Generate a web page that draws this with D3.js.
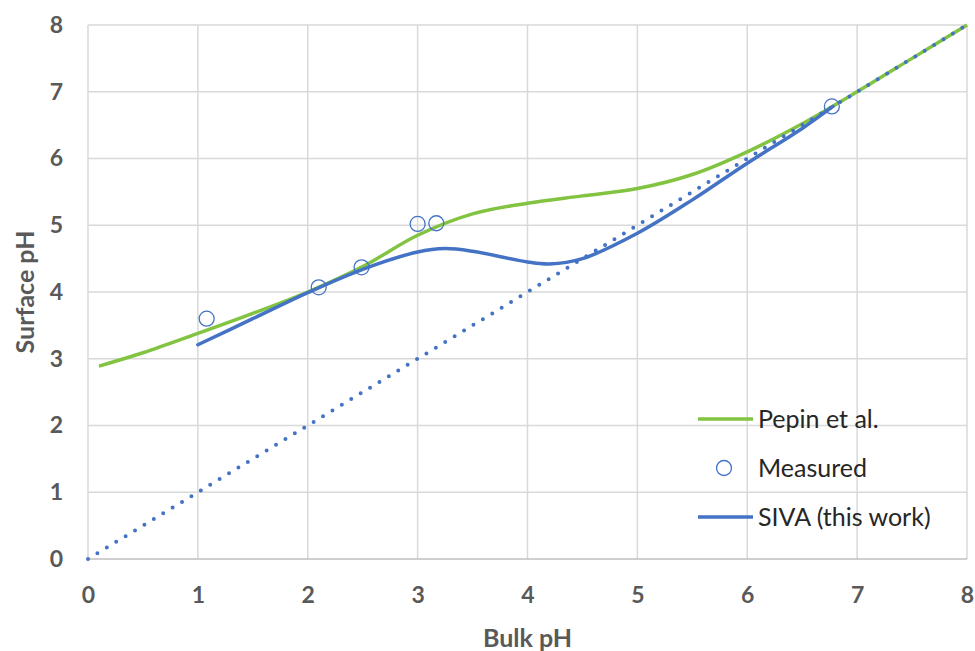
<!DOCTYPE html>
<html>
<head>
<meta charset="utf-8">
<script src="https://cdn.jsdelivr.net/npm/d3@7"></script>
<style>
  body { margin: 0; background: #fff; }
  text { font-family: Lato, "Open Sans", sans-serif; }
</style>
</head>
<body>
<script>
// bulk pH -> surface pH
const pepinX = [0.1, 0.5, 1, 1.5, 2, 2.5, 3, 3.5, 4, 4.5, 5, 5.5, 6, 6.5, 7, 7.5, 8];
const pepinY = [2.89, 3.09, 3.38, 3.68, 4.0, 4.38, 4.85, 5.17, 5.33, 5.44, 5.55, 5.76, 6.1, 6.52, 7.0, 7.5, 8.0];

const sivaX = [1, 1.5, 2, 2.5, 3, 3.25, 3.5, 4, 4.2, 4.5, 5, 5.5, 6, 6.5, 6.78];
const sivaY = [3.21, 3.6, 3.99, 4.34, 4.6, 4.65, 4.61, 4.45, 4.42, 4.5, 4.88, 5.38, 5.93, 6.45, 6.78];

const measX = [1.08, 2.1, 2.49, 3.0, 3.17, 6.77];
const measY = [3.6, 4.07, 4.37, 5.02, 5.03, 6.78];

const identityX = [0, 8];
const identityY = [0, 8];

const xTicks = [0, 1, 2, 3, 4, 5, 6, 7, 8];
const yTicks = [0, 1, 2, 3, 4, 5, 6, 7, 8];

const legendLabels = ["Pepin et al.", "Measured", "SIVA (this work)"];

const width = 975, height = 651;
const margin = {top: 25, right: 8, bottom: 92, left: 88};

const green = "#82c341", blue = "#4472c4";

const svg = d3.select("body").append("svg")
    .attr("width", width)
    .attr("height", height);

const x = d3.scaleLinear().domain([0, 8]).range([margin.left, width - margin.right]);
const y = d3.scaleLinear().domain([0, 8]).range([height - margin.bottom, margin.top]);

// grid
svg.append("g")
    .selectAll("line")
    .data(xTicks)
    .join("line")
    .attr("x1", d => x(d)).attr("x2", d => x(d))
    .attr("y1", y(0)).attr("y2", y(8))
    .attr("stroke", "#d9d9d9").attr("stroke-width", 1.5);

svg.append("g")
    .selectAll("line")
    .data(yTicks)
    .join("line")
    .attr("x1", x(0)).attr("x2", x(8))
    .attr("y1", d => y(d)).attr("y2", d => y(d))
    .attr("stroke", d => d === 0 ? "#bfbfbf" : "#d9d9d9").attr("stroke-width", 1.5);

// axes (labels only)
const xAxis = g => g
    .attr("transform", `translate(0, ${y(0)})`)
    .call(d3.axisBottom(x).tickValues(xTicks).tickSize(0).tickPadding(28).tickFormat(d3.format("d")))
    .call(g => g.select(".domain").remove())
    .call(g => g.selectAll("text")
        .attr("font-family", "Lato, sans-serif")
        .attr("font-size", 23).attr("font-weight", "bold").attr("fill", "#595959"));

const yAxis = g => g
    .attr("transform", `translate(${x(0)}, 0)`)
    .call(d3.axisLeft(y).tickValues(yTicks).tickSize(0).tickPadding(25).tickFormat(d3.format("d")))
    .call(g => g.select(".domain").remove())
    .call(g => g.selectAll("text")
        .attr("font-family", "Lato, sans-serif")
        .attr("font-size", 23).attr("font-weight", "bold").attr("fill", "#595959"));

svg.append("g").call(xAxis);
svg.append("g").call(yAxis);

svg.append("text")
    .attr("x", x(4)).attr("y", 647)
    .attr("text-anchor", "middle")
    .attr("font-size", 25).attr("font-weight", "bold").attr("fill", "#595959")
    .text("Bulk pH");

svg.append("text")
    .attr("transform", `translate(34, ${y(4)}) rotate(-90)`)
    .attr("text-anchor", "middle")
    .attr("font-size", 25).attr("font-weight", "bold").attr("fill", "#595959")
    .text("Surface pH");

const line = d3.line()
    .x(d => x(d[0]))
    .y(d => y(d[1]))
    .curve(d3.curveCatmullRom.alpha(0.5));

// pepin et al.
svg.append("path")
    .datum(d3.zip(pepinX, pepinY))
    .attr("d", line)
    .attr("fill", "none").attr("stroke", green).attr("stroke-width", 3.5);

// y = x dotted
svg.append("path")
    .datum(d3.zip(identityX, identityY))
    .attr("d", d3.line().x(d => x(d[0])).y(d => y(d[1])))
    .attr("fill", "none").attr("stroke", blue).attr("stroke-width", 4)
    .attr("stroke-linecap", "round").attr("stroke-dasharray", "0 11");

// siva
svg.append("path")
    .datum(d3.zip(sivaX, sivaY))
    .attr("d", line)
    .attr("fill", "none").attr("stroke", blue).attr("stroke-width", 3.5)
    .attr("stroke-linecap", "round");

// measured
svg.append("g")
    .selectAll("circle")
    .data(d3.zip(measX, measY))
    .join("circle")
    .attr("cx", d => x(d[0])).attr("cy", d => y(d[1]))
    .attr("r", 7.5)
    .attr("fill", "none").attr("stroke", blue).attr("stroke-width", 1.3);

// legend
const legend = svg.append("g").attr("transform", "translate(698, 419)");
const rows = legend.selectAll("g")
    .data(legendLabels)
    .join("g")
    .attr("transform", (d, i) => `translate(0, ${i * 49})`);

rows.filter((d, i) => i !== 1).append("line")
    .attr("x1", 0).attr("x2", 55)
    .attr("stroke", (d, i) => i === 0 ? green : blue)
    .attr("stroke-width", 3.5);

rows.filter((d, i) => i === 1).append("circle")
    .attr("cx", 26).attr("r", 7.5)
    .attr("fill", "none").attr("stroke", blue).attr("stroke-width", 1.3);

rows.append("text")
    .attr("x", 60).attr("dy", "0.35em")
    .attr("font-size", 25).attr("fill", "#262626")
    .text(d => d);
</script>
</body>
</html>
